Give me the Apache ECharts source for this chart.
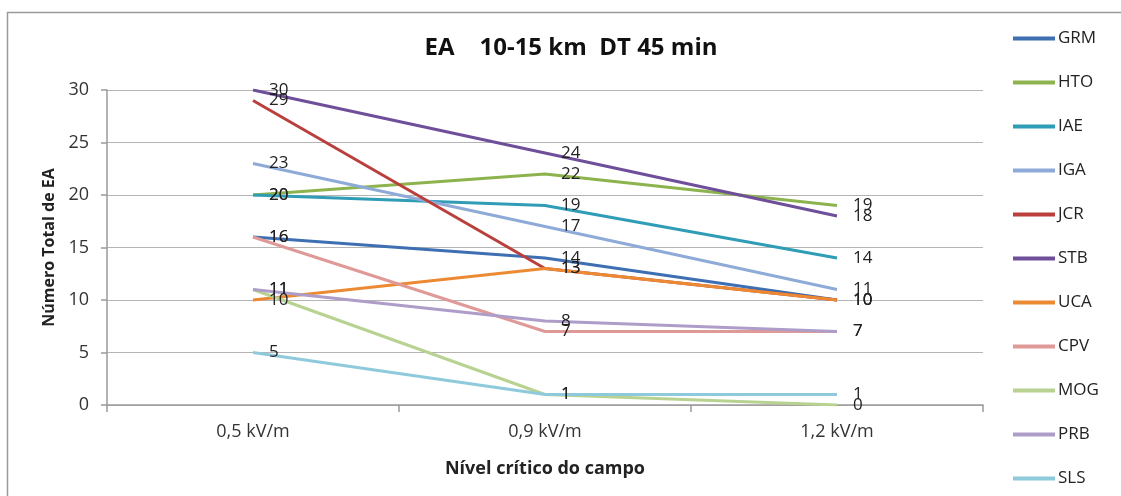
<!DOCTYPE html>
<html><head><meta charset="utf-8">
<script src="https://cdn.jsdelivr.net/npm/echarts@6/dist/echarts.min.js"></script>
<style>html,body{margin:0;padding:0;background:#fff}#c{width:1121px;height:496px}</style>
</head><body><div id="c"></div>
<script>
const categories = ['0,5 kV/m', '0,9 kV/m', '1,2 kV/m'];
const seriesNames = ['GRM','HTO','IAE','IGA','JCR','STB','UCA','CPV','MOG','PRB','SLS'];
const GRM = [16, 14, 10];
const HTO = [20, 22, 19];
const IAE = [20, 19, 14];
const IGA = [23, 17, 11];
const JCR = [29, 13, 10];
const STB = [30, 24, 18];
const UCA = [10, 13, 10];
const CPV = [16, 7, 7];
const MOG = [11, 1, 0];
const PRB = [11, 8, 7];
const SLS = [5, 1, 1];
const yTicks = [0, 5, 10, 15, 20, 25, 30];
const values = [GRM, HTO, IAE, IGA, JCR, STB, UCA, CPV, MOG, PRB, SLS];
const colors = ['#3d6fb2','#8db34e','#2f9db6','#8eaad7','#b9403d','#6f4e9a','#ec8a34','#df9a98','#b8d291','#ad9dc8','#8fcadc'];
const FONT = '"Open Sans", "Noto Sans", sans-serif';

const chart = echarts.init(document.getElementById('c'), null, {renderer: 'canvas'});
chart.setOption({
  animation: false,
  color: colors,
  textStyle: {fontFamily: FONT},
  title: {
    text: 'EA    10-15 km  DT 45 min',
    left: 566, top: 31, textAlign: 'center',
    textStyle: {fontFamily: FONT, fontSize: 24, fontWeight: 'bold', color: '#111'}
  },
  graphic: [{
    type: 'rect', shape: {x: 7.5, y: 12.5, width: 1300, height: 700},
    style: {fill: 'none', stroke: '#9a9a9a', lineWidth: 1.5}, silent: true, z: -1
  }],
  legend: {
    orient: 'vertical', left: 1013, top: 30, bottom: 0, padding: 0,
    itemWidth: 42, itemHeight: 15, itemGap: 27,
    icon: 'path://M0,5.5 L42,5.5 L42,9.5 L0,9.5 Z',
    textStyle: {fontFamily: FONT, fontSize: 17, color: '#222', padding: [0,0,0,-2]},
    data: seriesNames
  },
  grid: {left: 107, right: 1121 - 983, top: 90, bottom: 496 - 405, containLabel: false},
  xAxis: {
    type: 'category', data: categories, boundaryGap: true,
    name: 'Nível crítico do campo', nameLocation: 'middle', nameGap: 55,
    nameTextStyle: {fontFamily: FONT, fontSize: 18, fontWeight: 'bold', color: '#222'},
    axisLine: {lineStyle: {color: '#9a9a9a', width: 1.5}},
    axisTick: {show: true, alignWithLabel: false, length: 7, lineStyle: {color: '#9a9a9a', width: 1.5}},
    axisLabel: {fontFamily: FONT, fontSize: 18, color: '#333', margin: 18}
  },
  yAxis: {
    type: 'value', min: 0, max: 30, interval: 5,
    name: 'Número Total de EA', nameLocation: 'middle', nameGap: 49, nameRotate: 90,
    nameTextStyle: {fontFamily: FONT, fontSize: 16, fontWeight: 'bold', color: '#222'},
    axisLine: {show: true, lineStyle: {color: '#9a9a9a', width: 1.5}},
    axisTick: {show: true, length: 6, lineStyle: {color: '#9a9a9a', width: 1.5}},
    axisLabel: {fontFamily: FONT, fontSize: 18, color: '#333', margin: 18,
      formatter: v => yTicks.includes(v) ? String(v) : ''},
    splitLine: {lineStyle: {color: '#b4b4b4', width: 1.2}}
  },
  series: seriesNames.map((n, i) => ({
    name: n, type: 'line', data: values[i],
    symbol: 'circle', symbolSize: 0, showSymbol: true,
    lineStyle: {width: 3, color: colors[i]},
    itemStyle: {color: colors[i]},
    label: {show: true, position: 'right', distance: 16,
      fontFamily: FONT, fontSize: 17, color: '#222'},
    labelLayout: {hideOverlap: false}
  }))
});
</script></body></html>
